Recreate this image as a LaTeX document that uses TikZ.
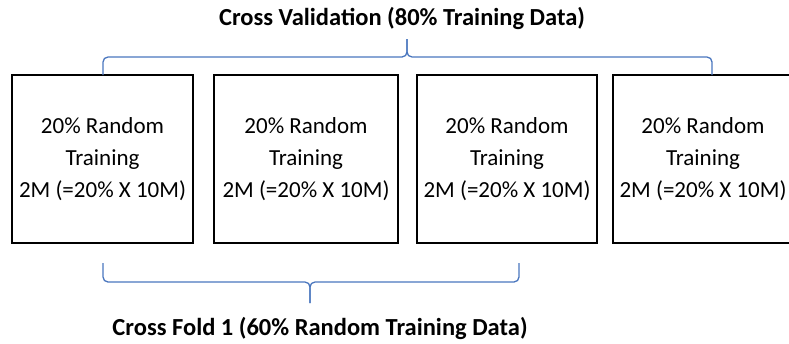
\documentclass[tikz,border=0pt]{standalone}
\usepackage{fontspec}
\setmainfont{Carlito}
\definecolor{braceblue}{RGB}{74,118,190}
\begin{document}
\begin{tikzpicture}[x=1pt,y=-1pt,
  box/.style={draw=black,line width=2pt,rectangle,minimum height=168pt,inner sep=0pt,
    align=center,font=\fontsize{23}{32}\selectfont},
  bracepath/.style={draw=braceblue,line width=1.3pt,rounded corners=5pt},
  lbl/.style={font=\fontsize{24.5}{28}\selectfont\bfseries,inner sep=0pt}]
\useasboundingbox (0,0) rectangle (789,343);
\node[box,minimum width=181pt] (b1) at (102.5,159) {20\% Random\\Training\\2M (=20\% X 10M)};
\node[box,minimum width=184pt] (b2) at (306,159) {20\% Random\\Training\\2M (=20\% X 10M)};
\node[box,minimum width=180pt] (b3) at (507,159) {20\% Random\\Training\\2M (=20\% X 10M)};
\node[box,minimum width=181pt] (b4) at (703,159) {20\% Random\\Training\\2M (=20\% X 10M)};
\node[lbl] (top) at (402,18) {Cross Validation (80\% Training Data)};
\node[lbl] (bot) at (320,328) {Cross Fold 1 (60\% Random Training Data)};
% top brace
\coordinate (tl) at (103,75);
\coordinate (tr) at (712,75);
\coordinate (tm) at (407,39);
\path[bracepath] (tl) -- (103,57) -- (407,57) -- (tm);
\path[bracepath] (tm) -- (407,57) -- (712,57) -- (tr);
% bottom brace
\coordinate (bl) at (103,263);
\coordinate (br) at (519,263);
\coordinate (bm) at (310,303);
\path[bracepath] (bl) -- (103,282) -- (310,282) -- (bm);
\path[bracepath] (bm) -- (310,282) -- (519,282) -- (br);
\end{tikzpicture}
\end{document}
